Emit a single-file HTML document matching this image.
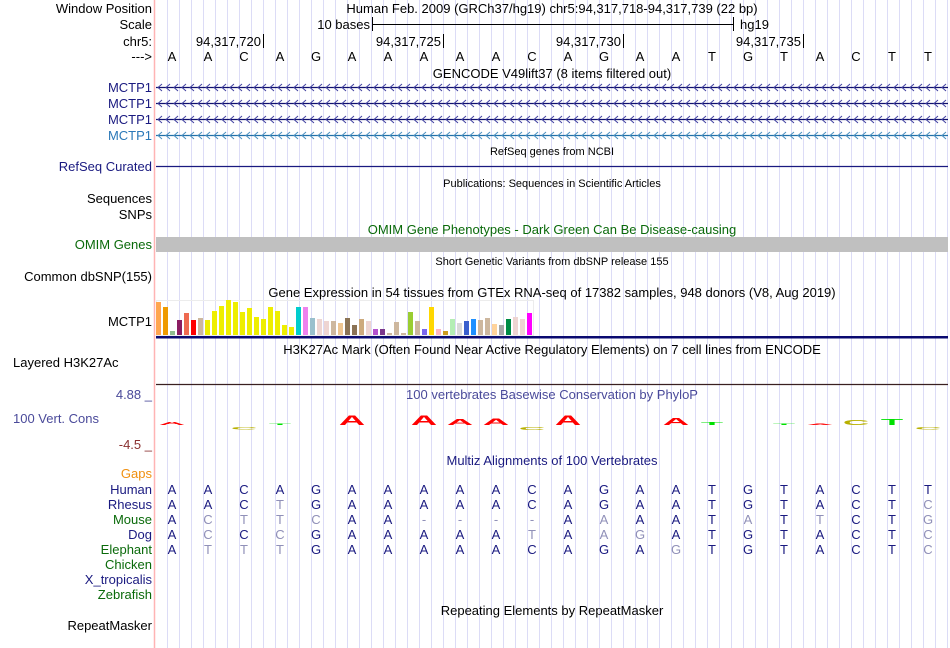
<!DOCTYPE html>
<html><head><meta charset="utf-8"><style>
body{margin:0;background:#fff;}
svg{display:block;font-family:"Liberation Sans",sans-serif;}
</style></head><body>
<svg id="ucsc" width="950" height="648" viewBox="0 0 950 648">
<g id="grid"></g>
<line x1="154.5" y1="0" x2="154.5" y2="648" stroke="#ffb4b4" stroke-width="1.5"/>
<g font-size="13" text-anchor="end">
<text x="152" y="13" fill="#000">Window Position</text>
<text x="152" y="29" fill="#000">Scale</text>
<text x="152" y="46" fill="#000">chr5:</text>
<text x="152" y="61" fill="#000">---&gt;</text>
<text x="152" y="92" fill="#1a1a80">MCTP1</text>
<text x="152" y="108" fill="#1a1a80">MCTP1</text>
<text x="152" y="124" fill="#1a1a80">MCTP1</text>
<text x="152" y="140" fill="#2a78b8">MCTP1</text>
<text x="152" y="171" fill="#1a1a80">RefSeq Curated</text>
<text x="152" y="203" fill="#000">Sequences</text>
<text x="152" y="219" fill="#000">SNPs</text>
<text x="152" y="249" fill="#0a6a0a">OMIM Genes</text>
<text x="152" y="281" fill="#000">Common dbSNP(155)</text>
<text x="152" y="326" fill="#000">MCTP1</text>
<text x="13" y="367" fill="#000" text-anchor="start">Layered H3K27Ac</text>
<text x="152" y="399" fill="#4a4a9a">4.88 _</text>
<text x="13" y="423" fill="#4a4a9a" text-anchor="start">100 Vert. Cons</text>
<text x="152" y="449" fill="#8a3030">-4.5 _</text>
<text x="152" y="478" fill="#f09010">Gaps</text>
<text x="152" y="494" fill="#1a1a80">Human</text>
<text x="152" y="509" fill="#1a1a80">Rhesus</text>
<text x="152" y="524" fill="#0a6a0a">Mouse</text>
<text x="152" y="539" fill="#1a1a80">Dog</text>
<text x="152" y="554" fill="#0a6a0a">Elephant</text>
<text x="152" y="569" fill="#0a6a0a">Chicken</text>
<text x="152" y="584" fill="#1a1a80">X_tropicalis</text>
<text x="152" y="599" fill="#0a6a0a">Zebrafish</text>
<text x="152" y="630" fill="#000">RepeatMasker</text>
</g>
<g font-size="13" text-anchor="middle">
<text x="552" y="13">Human Feb. 2009 (GRCh37/hg19)   chr5:94,317,718-94,317,739 (22 bp)</text>
<text x="552" y="78">GENCODE V49lift37 (8 items filtered out)</text>
<text x="552" y="155" font-size="11">RefSeq genes from NCBI</text>
<text x="552" y="187" font-size="11">Publications: Sequences in Scientific Articles</text>
<text x="552" y="234" fill="#0a6a0a">OMIM Gene Phenotypes - Dark Green Can Be Disease-causing</text>
<text x="552" y="265" font-size="11">Short Genetic Variants from dbSNP release 155</text>
<text x="552" y="297">Gene Expression in 54 tissues from GTEx RNA-seq of 17382 samples, 948 donors (V8, Aug 2019)</text>
<text x="552" y="354">H3K27Ac Mark (Often Found Near Active Regulatory Elements) on 7 cell lines from ENCODE</text>
<text x="552" y="399" fill="#4a4a9a">100 vertebrates Basewise Conservation by PhyloP</text>
<text x="552" y="465" fill="#1a1a80">Multiz Alignments of 100 Vertebrates</text>
<text x="552" y="615">Repeating Elements by RepeatMasker</text>
</g>
<g font-size="13">
<text x="370" y="29" text-anchor="end">10 bases</text>
<line x1="372" y1="24.5" x2="733" y2="24.5" stroke="#000"/>
<line x1="372.5" y1="17" x2="372.5" y2="31" stroke="#000"/>
<line x1="733.5" y1="17" x2="733.5" y2="31" stroke="#000"/>
<text x="740" y="29">hg19</text>
</g>
<g id="ruler" font-size="13"></g>
<g id="bases" font-size="13" text-anchor="middle"></g>
<g id="genes"></g>
<line x1="156" y1="166.5" x2="948" y2="166.5" stroke="#1a1a80" stroke-width="1.2"/>
<rect x="156" y="237" width="792" height="15" fill="#c0c0c0"/>
<rect x="156.5" y="300.5" width="377" height="35" fill="none" stroke="#ececec"/>
<g id="gtex"></g>
<rect x="156" y="336" width="792" height="2.5" fill="#0a0a70"/>
<line x1="156" y1="384.5" x2="948" y2="384.5" stroke="#3a2020" stroke-width="1.2"/>
<g id="cons"></g>
<g id="multiz" font-size="13" text-anchor="middle"></g>
</svg>
<script>
const NS="http://www.w3.org/2000/svg";
const bases=["A","A","C","A","G","A","A","A","A","A","C","A","G","A","A","T","G","T","A","C","T","T"];
const rulerLabels=["94,317,720","94,317,725","94,317,730","94,317,735"];
const rulerBaseIdx=[2,7,12,17];
const gtexValues=[33,28,4,15,22,15,17,15,24,29,35,33,23,27,18,16,28,24,10,8,28,28,17,16,14,14,12,17,10,16,14,6,6,2,13,2,23,14,6,28,6,4,16,12,14,16,15,17,11,10,16,18,16,22];
const gtexColors=["#FFA54F","#EE9A00","#8FBC8F","#8B1C62","#EE6A50","#FF0000","#CDB79E","#EEEE00","#EEEE00","#EEEE00","#EEEE00","#EEEE00","#EEEE00","#EEEE00","#EEEE00","#EEEE00","#EEEE00","#EEEE00","#EEEE00","#EEEE00","#00CDCD","#EE82EE","#9AC0CD","#EED5D2","#EED5D2","#CDB79E","#EEC591","#8B7355","#8B7355","#CDAA7D","#EED5D2","#B452CD","#7A378B","#CDB79E","#CDB79E","#CDB79E","#9ACD32","#CDB79E","#7A67EE","#FFD700","#FFB6C1","#CD9B1D","#B4EEB4","#D9D9D9","#3A5FCD","#1E90FF","#CDB79E","#CDB79E","#FFD39B","#A6A6A6","#008B45","#EED5D2","#EED5D2","#FF00FF"];
const consIdx=[0,2,3,5,7,8,9,10,11,14,15,17,18,19,20,21];
const consValues=[0.6,-0.5,0.2,2.0,2.0,1.2,1.3,-0.6,2.0,1.4,0.6,0.1,0.1,1.0,1.2,-0.5];
const consLetters=["A","C","T","A","A","A","A","C","A","A","T","T","A","C","T","C"];
const speciesRows=["Human","Rhesus","Mouse","Dog","Elephant"];
const seqHuman="AACAGAAAAACAGAATGTACTT";
const seqRhesus="AACTGAAAAACAGAATGTACTC";
const seqMouse="ACTTCAA----AAAATATTCTG";
const seqDog="ACCCGAAAAATAAGATGTACTC";
const seqElephant="ATTTGAAAAACAGAGTGTACTC";
const consMax=4.88, consMin=-4.5;

const xBase=i=>172+36*i;
const yGtex=v=>335-v;
const yCons=v=>425-v*5;
function mk(tag,attrs,parent){const e=document.createElementNS(NS,tag);for(const k in attrs)e.setAttribute(k,attrs[k]);parent.appendChild(e);return e;}

const grid=document.getElementById('grid');
for(let x=167.5;x<950;x+=12){const l=mk('line',{x1:x,y1:0,x2:x,y2:648,stroke:'#dcdcf6','stroke-width':1},grid);

}

const ruler=document.getElementById('ruler');
rulerLabels.forEach((lab,k)=>{const tx=xBase(rulerBaseIdx[k])+20;
const t=mk('text',{x:tx-3,y:46,'text-anchor':'end'},ruler);t.textContent=lab;


const l=mk('line',{x1:tx-0.5,y1:34,x2:tx-0.5,y2:48,stroke:'#000'},ruler);

});

const bg=document.getElementById('bases');
bases.forEach((b,i)=>{const t=mk('text',{x:xBase(i),y:61},bg);t.textContent=b;

});

const genes=document.getElementById('genes');
[87,103,119,135].forEach((y,k)=>{const c=k==3?'#2070a8':'#10106e';
const g=mk('g',{},genes);


mk('line',{x1:156,y1:y+0.5,x2:948,y2:y+0.5,stroke:c,'stroke-width':1.3},g);
let d='';for(let x=158;x<946;x+=8){d+=`M${x+4},${y-3} L${x},${y+0.5} L${x+4},${y+4} `;}
mk('path',{d:d,stroke:k==3?'#4a90c0':'#4040a0',fill:'none','stroke-width':1},g);});

const gt=document.getElementById('gtex');
gtexValues.forEach((v,i)=>{const r=mk('rect',{x:156+i*7,y:yGtex(v),width:5,height:v,fill:gtexColors[i]},gt);

});

const colors={A:'#ff0000',C:'#b8b000',T:'#00e000',G:'#e08000'};
const cg=document.getElementById('cons');
consIdx.forEach((idx,k)=>{const v=consValues[k];const h=Math.abs(v)*5;const base=yCons(0);
const sy=Math.max(h,1)/10;
const tr=v>=0?`translate(${xBase(idx)},${base}) scale(2.6,${sy})`:`translate(${xBase(idx)},${base+2}) scale(2.6,${-sy})`;
const t=mk('text',{transform:tr,'text-anchor':'middle','font-size':14,'font-weight':'bold',fill:colors[consLetters[k]]},cg);
t.textContent=consLetters[k];

});

const mz=document.getElementById('multiz');
const seqs=[seqHuman,seqRhesus,seqMouse,seqDog,seqElephant];
speciesRows.forEach((sp,r)=>{const s=seqs[r];for(let i=0;i<22;i++){const ch=s[i];
const same=r===0||ch===seqHuman[i];
const t=mk('text',{x:xBase(i),y:494+15*r,fill:same?'#1a1a80':'#9090b8'},mz);t.textContent=ch;

}});
</script>
</body></html>
